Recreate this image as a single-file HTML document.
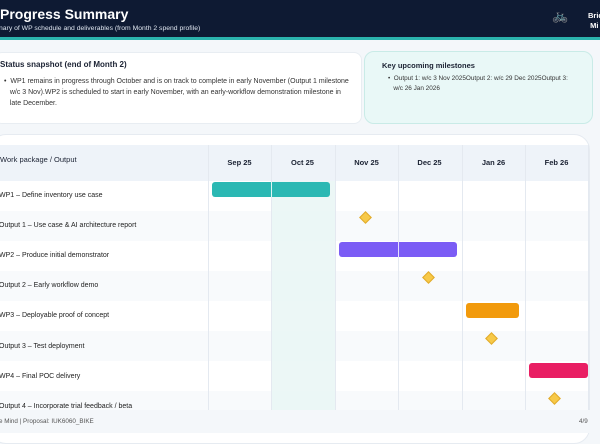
<!DOCTYPE html>
<html><head><meta charset="utf-8"><style>
*{margin:0;padding:0;box-sizing:border-box}
body{width:600px;height:433px;overflow:hidden;background:#f4f7fa;font-family:"Liberation Sans",sans-serif;position:relative;color:#1b2233}
.a{position:absolute}
.lbl{position:absolute;left:-1px;font-size:7px;color:#222;white-space:nowrap}
.m{position:absolute;top:145px;height:36px;line-height:36px;text-align:center;font-size:7.5px;font-weight:bold;width:63px}
.vl{position:absolute;top:145px;width:1px;height:265px;background:#e4e9f0}
.d{position:absolute;width:9px;height:9px;background:#f7c948;border:1px solid #e0a92a;transform:rotate(45deg)}
.bar{position:absolute;height:15px;border-radius:3px}
</style></head><body>
<div class="a" style="left:0;top:0;width:600px;height:37px;background:#0e1a33"></div>
<div class="a" style="left:0;top:37px;width:600px;height:3px;background:#2bb3ad"></div>
<div class="a" style="left:0;top:6px;font-size:14px;font-weight:bold;color:#fff">Progress Summary</div>
<div class="a" style="left:-1px;top:25px;font-size:6.8px;color:#dfe6f0">nary of WP schedule and deliverables (from Month 2 spend profile)</div>
<div class="a" style="left:552px;top:8px;font-size:13px;color:#fff">🚲</div>
<div class="a" style="left:588px;top:11px;font-size:7.5px;font-weight:bold;color:#fff;line-height:10px">Brid<br>&nbsp;Mi</div>

<div class="a" style="left:-6px;top:52px;width:368px;height:72px;background:#fff;border-radius:8px;border:1px solid #e8edf2"></div>
<div class="a" style="left:0;top:60px;font-size:8px;font-weight:bold">Status snapshot (end of Month 2)</div>
<div class="a" style="left:4px;top:76px;width:360px;font-size:7px;line-height:11px;color:#333;white-space:nowrap">• &nbsp;WP1 remains in progress through October and is on track to complete in early November (Output 1 milestone<br>&nbsp;&nbsp;&nbsp;w/c 3 Nov).WP2 is scheduled to start in early November, with an early-workflow demonstration milestone in<br>&nbsp;&nbsp;&nbsp;late December.</div>

<div class="a" style="left:364px;top:51px;width:229px;height:73px;background:#e9f8f7;border:1px solid #c9ebe7;border-radius:10px"></div>
<div class="a" style="left:382px;top:61px;font-size:7.5px;font-weight:bold">Key upcoming milestones</div>
<div class="a" style="left:388px;top:74px;width:205px;font-size:6.4px;line-height:10px;color:#333;white-space:nowrap">• &nbsp;Output 1: w/c 3 Nov 2025Output 2: w/c 29 Dec 2025Output 3:<br>&nbsp;&nbsp;&nbsp;w/c 26 Jan 2026</div>

<div class="a" style="left:-10px;top:134px;width:600px;height:310px;background:#fff;border:1px solid #e6ebf1;border-radius:16px"></div>
<div class="a" style="left:0;top:145px;width:588px;height:36px;background:#eef3f9"></div>
<div class="a" style="left:0;top:211px;width:588px;height:30px;background:#f8fafc"></div>
<div class="a" style="left:0;top:271px;width:588px;height:30px;background:#f8fafc"></div>
<div class="a" style="left:0;top:331px;width:588px;height:30px;background:#f8fafc"></div>
<div class="a" style="left:0;top:391px;width:588px;height:19px;background:#f8fafc"></div>
<div class="a" style="left:271px;top:181px;width:64px;height:229px;background:#e9f6f5;opacity:.85"></div>
<div class="vl" style="left:208px"></div><div class="vl" style="left:271px"></div><div class="vl" style="left:335px"></div><div class="vl" style="left:398px"></div><div class="vl" style="left:462px"></div><div class="vl" style="left:525px"></div><div class="vl" style="left:588px"></div>
<div class="a" style="left:0;top:155px;font-size:7.5px">Work package / Output</div>
<div class="m" style="left:208px">Sep 25</div><div class="m" style="left:271px">Oct 25</div><div class="m" style="left:335px">Nov 25</div><div class="m" style="left:398px">Dec 25</div><div class="m" style="left:462px">Jan 26</div><div class="m" style="left:525px">Feb 26</div>

<div class="lbl" style="top:192px">WP1 – Define inventory use case</div>
<div class="lbl" style="top:222px">Output 1 – Use case &amp; AI architecture report</div>
<div class="lbl" style="top:252px">WP2 – Produce initial demonstrator</div>
<div class="lbl" style="top:282px">Output 2 – Early workflow demo</div>
<div class="lbl" style="top:312px">WP3 – Deployable proof of concept</div>
<div class="lbl" style="top:343px">Output 3 – Test deployment</div>
<div class="lbl" style="top:373px">WP4 – Final POC delivery</div>
<div class="lbl" style="top:403px">Output 4 – Incorporate trial feedback / beta</div>

<div class="bar" style="left:212px;top:182px;width:118px;background:#2bb8b3"></div>
<div class="a" style="left:271px;top:182px;width:1px;height:15px;background:#dff5f3"></div>
<div class="d" style="left:361px;top:213px"></div>
<div class="bar" style="left:339px;top:242px;width:118px;background:#7b5cf5"></div>
<div class="a" style="left:398px;top:242px;width:1px;height:15px;background:#e6e0ff"></div>
<div class="d" style="left:424px;top:273px"></div>
<div class="bar" style="left:466px;top:303px;width:53px;background:#f29a0c"></div>
<div class="d" style="left:487px;top:334px"></div>
<div class="bar" style="left:529px;top:363px;width:59px;background:#e91e63"></div>
<div class="d" style="left:550px;top:394px"></div>

<div class="a" style="left:0;top:410px;width:600px;height:23px;background:#f4f7fa"></div>
<div class="a" style="left:-1px;top:418px;font-size:6.3px;color:#555">e Mind | Proposal: IUK6060_BIKE</div>
<div class="a" style="left:579px;top:418px;font-size:6.3px;color:#555">4/9</div>
</body></html>
